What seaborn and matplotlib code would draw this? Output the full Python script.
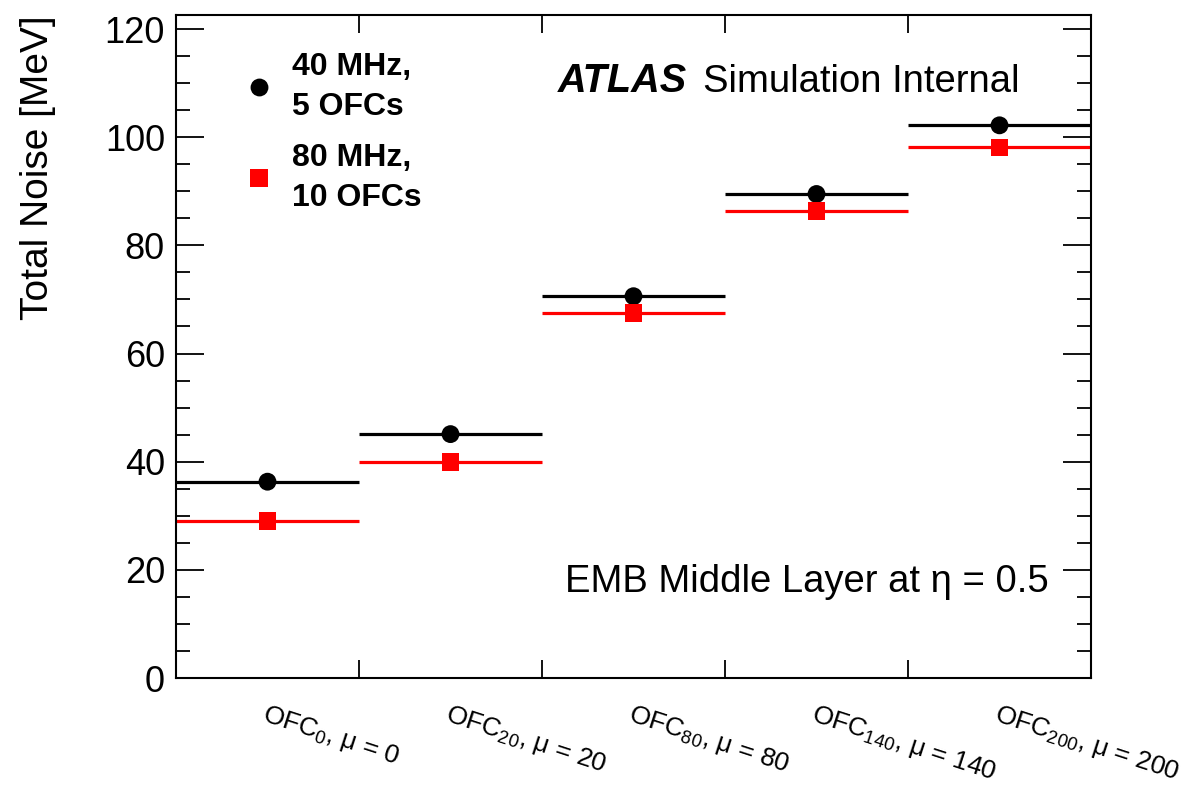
import numpy as np
import pandas as pd
import matplotlib
matplotlib.use("Agg")
import matplotlib.pyplot as plt
import seaborn as sns
from matplotlib.ticker import MultipleLocator

# ---- data ----
categories = ["0", "20", "80", "140", "200"]
noise_40mhz = [36.3, 45.1, 70.6, 89.5, 102.2]
noise_80mhz = [29.1, 39.9, 67.5, 86.4, 98.1]
series_names = ["40 MHz,\n5 OFCs", "80 MHz,\n10 OFCs"]
tick_labels = [f"OFC$_{{{c}}}$, \u03bc = {c}" for c in categories]

sns.set_theme(style="ticks")
plt.rcParams['font.family'] = ['Liberation Sans', 'DejaVu Sans']
plt.rcParams['mathtext.fontset'] = 'custom'
plt.rcParams['mathtext.rm'] = 'Liberation Sans'
plt.rcParams['mathtext.it'] = 'Liberation Sans:italic'
plt.rcParams['mathtext.bf'] = 'Liberation Sans:bold'
for k in ["text.color", "axes.labelcolor", "xtick.color", "ytick.color", "axes.edgecolor"]:
    plt.rcParams[k] = "black"

pos = np.arange(len(categories))
df = pd.DataFrame({
    "pos": np.concatenate([pos, pos]),
    "noise": noise_40mhz + noise_80mhz,
    "config": [series_names[0]] * len(pos) + [series_names[1]] * len(pos),
})

fig = plt.figure(figsize=(11.86, 7.87), dpi=100)
ax = fig.add_axes([176 / 1186, 109 / 787, 915 / 1186, 663 / 787])

colors = {series_names[0]: "black", series_names[1]: "#ff0000"}
# horizontal bin lines
ax.hlines(noise_40mhz, pos - 0.5, pos + 0.5, color="black", lw=2.3, zorder=2)
ax.hlines(noise_80mhz, pos - 0.5, pos + 0.5, color="#ff0000", lw=2.3, zorder=2)

sns.scatterplot(data=df, x="pos", y="noise", hue="config", style="config",
                palette=colors, markers={series_names[0]: "o", series_names[1]: "s"},
                s=165, linewidth=0, ax=ax, zorder=3)

ax.set_xlim(-0.5, len(categories) - 0.5)
ax.set_ylim(0, 122.6)

# y ticks
ax.yaxis.set_major_locator(MultipleLocator(20))
ax.yaxis.set_minor_locator(MultipleLocator(5))
ax.tick_params(axis="y", which="major", direction="in", length=20, width=1.3,
               labelsize=26, right=True, left=True, pad=8)
ax.tick_params(axis="y", which="minor", direction="in", length=10, width=1.3,
               right=True, left=True)

# x ticks: edges as major ticks (no labels), centers as minor labelled ticks
edges = np.arange(-0.5, len(categories) + 0.5, 1.0)
ax.set_xticks(edges[1:-1])
ax.set_xticklabels([])
ax.set_xticks(pos, tick_labels, minor=True)
ax.tick_params(axis="x", which="major", direction="in", length=13, width=1.3,
               top=True, bottom=True)
ax.tick_params(axis="x", which="minor", length=0, labelsize=19, pad=17)
for lbl in ax.get_xticklabels(minor=True):
    lbl.set_rotation(-18)
    lbl.set_ha("left")
    lbl.set_va("top")
    lbl.set_rotation_mode("anchor")

for sp in ax.spines.values():
    sp.set_linewidth(1.5)
    sp.set_color("black")

ax.set_xlabel("")
ax.set_ylabel("Total Noise [MeV]", fontsize=28, loc="top")
ax.yaxis.set_label_coords(-0.131, 1.0)

# annotations
ax.text(0.4175, 0.884, "ATLAS", transform=ax.transAxes, fontsize=28.5,
        fontweight="bold", fontstyle="italic", va="baseline", ha="left")
ax.text(0.576, 0.884, "Simulation Internal", transform=ax.transAxes, fontsize=27.5,
        va="baseline", ha="left")
ax.text(0.425, 0.1297, "EMB Middle Layer at \u03b7 = 0.5", transform=ax.transAxes,
        fontsize=27.5, va="baseline", ha="left")

handles, labels = ax.get_legend_handles_labels()
leg = ax.legend(handles, labels, loc="upper left", bbox_to_anchor=(0.033, 0.988),
                frameon=False, prop={"weight": "bold", "size": 23},
                handletextpad=0.3, handlelength=1.5, labelspacing=0.65, markerscale=1.0)
for t in leg.get_texts():
    t.set_linespacing(1.45)

fig.savefig("out.png", dpi=100)
